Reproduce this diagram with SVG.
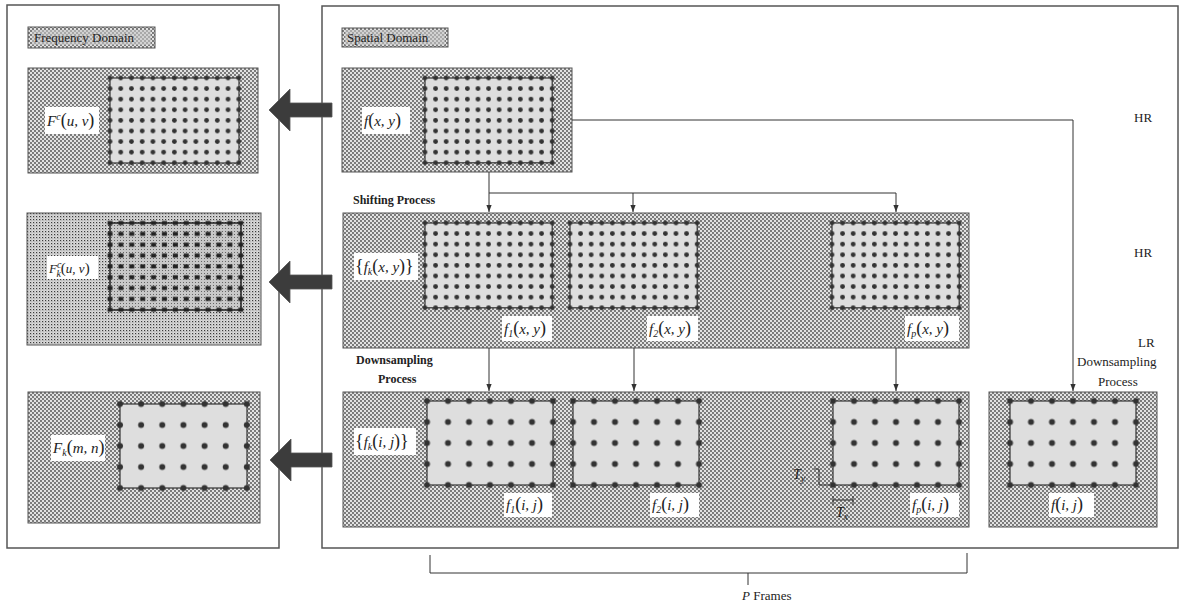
<svg xmlns="http://www.w3.org/2000/svg" width="1183" height="605" viewBox="0 0 1183 605">
<style>
text{font-family:"Liberation Serif","DejaVu Serif",serif;fill:#222}
.t{font-size:13px}
.b{font-size:12px;font-weight:bold}
.m{font-size:15px;font-style:italic}
.u{font-style:normal;font-size:18px}
.s{font-size:10px}
.panel{fill:#fff;stroke:#555;stroke-width:1.5}
.tag{fill:url(#ht);stroke:#555;stroke-width:1}
.bg{fill:url(#ht);stroke:#555;stroke-width:1}
.bg2{fill:url(#ht2);stroke:#555;stroke-width:1}
.in{fill:#dedede;stroke:#333;stroke-width:1.2}
.in2{fill:url(#ht3);stroke:#222;stroke-width:1.5}
.lab{fill:#fff}
.hr{fill:url(#hrdot)}
.hr2{fill:url(#hrdot2)}
.lr{fill:url(#lrdot)}
.c{fill:none;stroke:#333;stroke-width:1}
.big{fill:#3c3c3c;stroke:#555;stroke-width:0.8}
</style>
<defs>
<pattern id="ht" patternUnits="userSpaceOnUse" width="4" height="4">
<rect width="4" height="4" fill="#e2e2e2"/>
<circle cx="1" cy="1" r="0.9" fill="#4a4a4a"/>
<circle cx="3" cy="3" r="0.9" fill="#4a4a4a"/>
</pattern>
<pattern id="ht2" patternUnits="userSpaceOnUse" width="3" height="3">
<rect width="3" height="3" fill="#dadada"/>
<rect width="1.2" height="1.2" fill="#3a3a3a"/>
<rect x="1.5" y="1.5" width="0.8" height="0.8" fill="#777"/>
</pattern>
<pattern id="ht3" patternUnits="userSpaceOnUse" width="3" height="3">
<rect width="3" height="3" fill="#c8c8c8"/>
<rect width="1" height="1" fill="#666"/>
</pattern>
<pattern id="hrdot" patternUnits="objectBoundingBox" width="0.076923" height="0.111111">
<circle cx="5.3" cy="5.3" r="2.4" fill="#333"/>
</pattern>
<pattern id="hrdot2" patternUnits="objectBoundingBox" width="0.076923" height="0.111111">
<rect x="2.8" y="3.3" width="5" height="4" fill="#222"/>
</pattern>
<pattern id="lrdot" patternUnits="objectBoundingBox" width="0.142857" height="0.2">
<circle cx="10.5" cy="10.5" r="3" fill="#333"/>
</pattern>
<marker id="ah" viewBox="0 0 8 8" refX="8" refY="4" markerWidth="7" markerHeight="7" markerUnits="userSpaceOnUse" orient="auto">
<path d="M0,1 L8,4 L0,7 Z" fill="#333"/>
</marker>
</defs>
<rect width="1183" height="605" fill="#fff"/>

<g id="freq-panel">
<rect class="panel" x="7" y="5" width="272" height="543"/>
<rect class="tag" x="28" y="27" width="127" height="21"/>
<rect x="32" y="30" width="119" height="15" fill="#c8c8c8" opacity="0.6"/>
<text class="t" x="34" y="42">Frequency Domain</text>
</g>
<g id="spatial-panel">
<rect class="panel" x="322" y="6" width="856" height="542"/>
<rect class="tag" x="342" y="28" width="106" height="19"/>
<rect x="345" y="30" width="100" height="15" fill="#c8c8c8" opacity="0.6"/>
<text class="t" x="347" y="42">Spatial Domain</text>
</g>

<g id="freq-hr">
<rect class="bg" x="28" y="68" width="230" height="105"/>
<rect class="in" x="110" y="78" width="129" height="85"/>
<rect class="hr" x="104.7" y="72.7" width="139.5" height="95.4"/>
<rect class="lab" x="45" y="107" width="54" height="27"/>
<text class="m" x="47" y="126">F<tspan class="s" dy="-6">c</tspan><tspan class="u" dy="6">(</tspan>u, v<tspan class="u">)</tspan></text>
</g>
<g id="freq-shift">
<rect class="bg2" x="27" y="213" width="234" height="132"/>
<rect class="in2" x="110" y="223" width="131" height="87"/>
<rect class="hr2" x="104.7" y="217.7" width="141.6" height="97.6"/>
<rect class="lab" x="47" y="256" width="51" height="23"/>
<text class="m" x="49" y="273" style="font-size:13px">F<tspan class="s" dy="-5">c</tspan><tspan class="s" dx="-5" dy="9">k</tspan><tspan class="u" dy="-4" style="font-size:15px">(</tspan>u, v<tspan class="u" style="font-size:15px">)</tspan></text>
</g>
<g id="freq-lr">
<rect class="bg" x="28" y="392" width="232" height="131"/>
<rect class="in" x="120" y="404" width="127" height="84"/>
<rect class="lr" x="109.5" y="393.5" width="148" height="105"/>
<rect class="lab" x="51" y="435" width="54" height="26"/>
<text class="m" x="53" y="453">F<tspan class="s" dy="3">k</tspan><tspan class="u" dy="-3">(</tspan>m, n<tspan class="u">)</tspan></text>
</g>

<g id="spatial-hr">
<rect class="bg" x="342" y="68" width="230" height="104"/>
<rect class="in" x="425" y="78" width="127.2" height="84.8"/>
<rect class="hr" x="419.7" y="72.7" width="137.8" height="95.4"/>
<rect class="lab" x="362" y="107" width="48" height="27"/>
<text class="m" x="364" y="126">f<tspan class="u">(</tspan>x, y<tspan class="u">)</tspan></text>
</g>

<g id="shifted-set">
<rect class="bg" x="343" y="213" width="626" height="135"/>
<rect class="in" x="425" y="223" width="127.2" height="84.8"/>
<rect class="hr" x="419.7" y="217.7" width="137.8" height="95.4"/>
<rect class="in" x="570" y="223" width="127.2" height="84.8"/>
<rect class="hr" x="564.7" y="217.7" width="137.8" height="95.4"/>
<rect class="in" x="832" y="223" width="127.2" height="84.8"/>
<rect class="hr" x="826.7" y="217.7" width="137.8" height="95.4"/>
<rect class="lab" x="354" y="253" width="64" height="27"/>
<text class="m" x="355" y="272"><tspan class="u">{</tspan>f<tspan class="s" dy="3">k</tspan><tspan class="u" dy="-3">(</tspan>x, y<tspan class="u">)}</tspan></text>
<rect class="lab" x="502" y="316" width="50" height="25"/>
<text class="m" x="504" y="334">f<tspan class="s" dy="3">1</tspan><tspan class="u" dy="-3">(</tspan>x, y<tspan class="u">)</tspan></text>
<rect class="lab" x="647" y="316" width="51" height="25"/>
<text class="m" x="649" y="334">f<tspan class="s" dy="3">2</tspan><tspan class="u" dy="-3">(</tspan>x, y<tspan class="u">)</tspan></text>
<rect class="lab" x="905" y="316" width="54" height="25"/>
<text class="m" x="907" y="334">f<tspan class="s" dy="3">p</tspan><tspan class="u" dy="-3">(</tspan>x, y<tspan class="u">)</tspan></text>
</g>

<g id="lr-set">
<rect class="bg" x="343" y="392" width="626" height="135"/>
<rect class="in" x="427" y="401" width="126" height="84"/>
<rect class="lr" x="416.5" y="390.5" width="147" height="105"/>
<rect class="in" x="573" y="401" width="126" height="84"/>
<rect class="lr" x="562.5" y="390.5" width="147" height="105"/>
<rect class="in" x="833" y="401" width="126" height="84"/>
<rect class="lr" x="822.5" y="390.5" width="147" height="105"/>
<rect class="lab" x="354" y="428" width="62" height="27"/>
<text class="m" x="355" y="447"><tspan class="u">{</tspan>f<tspan class="s" dy="3">k</tspan><tspan class="u" dy="-3">(</tspan>i, j<tspan class="u">)}</tspan></text>
<rect class="lab" x="504" y="493" width="48" height="24"/>
<text class="m" x="506" y="510">f<tspan class="s" dy="3">1</tspan><tspan class="u" dy="-3">(</tspan>i, j<tspan class="u">)</tspan></text>
<rect class="lab" x="650" y="493" width="49" height="24"/>
<text class="m" x="652" y="510">f<tspan class="s" dy="3">2</tspan><tspan class="u" dy="-3">(</tspan>i, j<tspan class="u">)</tspan></text>
<rect class="lab" x="910" y="493" width="49" height="24"/>
<text class="m" x="912" y="510">f<tspan class="s" dy="3">p</tspan><tspan class="u" dy="-3">(</tspan>i, j<tspan class="u">)</tspan></text>
<path class="c" d="M814,469 H819 V485 H833 M833,496 V505 M833,500 H853 M853,496 V505"/>
<text class="m" x="793" y="479" style="font-size:14px">T<tspan class="s" dy="3">y</tspan></text>
<text class="m" x="836" y="517" style="font-size:14px">T<tspan class="s" dy="3">x</tspan></text>
</g>

<g id="lr-ref">
<rect class="bg" x="989" y="392" width="168" height="135"/>
<rect class="in" x="1010" y="401" width="126" height="84"/>
<rect class="lr" x="999.5" y="390.5" width="147" height="105"/>
<rect class="lab" x="1049" y="493" width="45" height="24"/>
<text class="m" x="1051" y="510">f<tspan class="u">(</tspan>i, j<tspan class="u">)</tspan></text>
</g>

<g id="connectors">
<path class="c" d="M572,120 H1073 V391" marker-end="url(#ah)"/>
<path class="c" d="M489,172 V212" marker-end="url(#ah)"/>
<path class="c" d="M489,193 H896 V212" marker-end="url(#ah)"/>
<path class="c" d="M633,193 V212" marker-end="url(#ah)"/>
<path class="c" d="M489,348 V391" marker-end="url(#ah)"/>
<path class="c" d="M634,348 V391" marker-end="url(#ah)"/>
<path class="c" d="M896,348 V391" marker-end="url(#ah)"/>
<path class="c" d="M430,555 V573 H967 V553 M748,573 V585"/>
<polygon class="big" points="269,110 290,89 290,103 332,103 332,117 290,117 290,131"/>
<polygon class="big" points="269,282 290,261 290,275 332,275 332,289 290,289 290,303"/>
<polygon class="big" points="270,460 291,439 291,453 332,453 332,467 291,467 291,481"/>
</g>

<g id="annotations">
<text class="b" x="353" y="204">Shifting Process</text>
<text class="b" x="356" y="364">Downsampling</text>
<text class="b" x="378" y="383">Process</text>
<text class="t" x="1134" y="122">HR</text>
<text class="t" x="1134" y="257">HR</text>
<text class="t" x="1138" y="347">LR</text>
<text class="t" x="1077" y="366">Downsampling</text>
<text class="t" x="1098" y="386">Process</text>
<text class="t" x="742" y="600"><tspan font-style="italic">P</tspan> Frames</text>
</g>
</svg>
